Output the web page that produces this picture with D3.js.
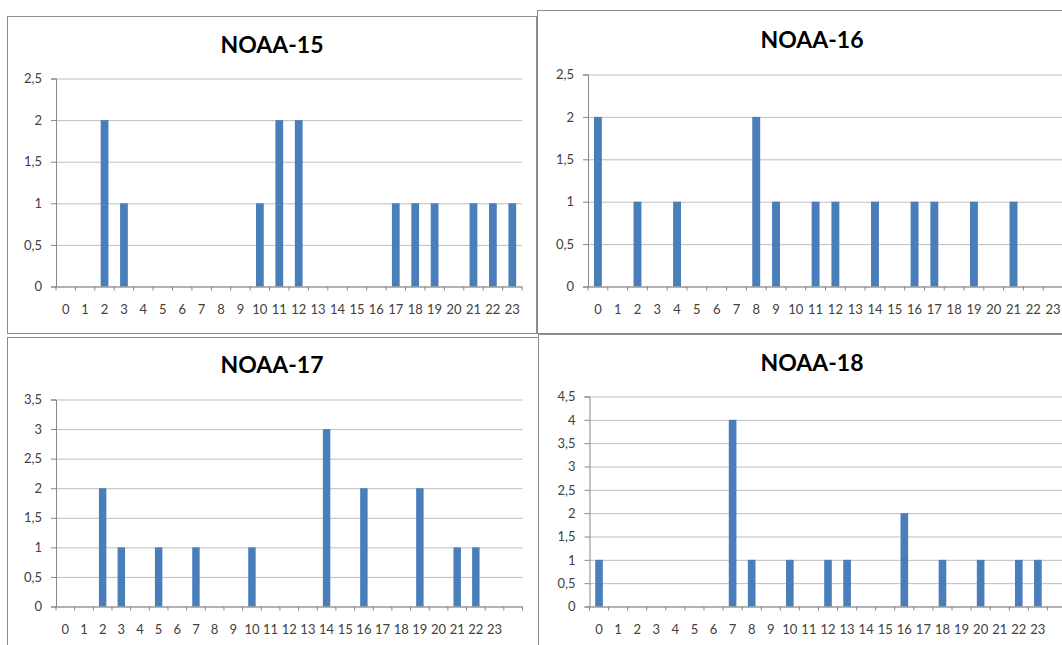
<!DOCTYPE html>
<html>
<head>
<meta charset="utf-8">
<script src="https://cdn.jsdelivr.net/npm/d3@7"></script>
<style>
  body { margin: 0; background: #fff; }
  svg { display: block; }
  .tick text { font-family: Lato, "Open Sans", sans-serif; font-size: 13px; fill: #404040; }
</style>
</head>
<body>
<div id="chart"></div>
<script>
// hour of day labels
var hourLabels = ["0","1","2","3","4","5","6","7","8","9","10","11","12","13","14","15","16","17","18","19","20","21","22","23"];

// passes per hour, one array per satellite
var noaa15 = [0,0,2,1,0,0,0,0,0,0,1,2,2,0,0,0,0,1,1,1,0,1,1,1];
var noaa16 = [2,0,1,0,1,0,0,0,2,1,0,1,1,0,1,0,1,1,0,1,0,1,0,0];
var noaa17 = [0,0,2,1,0,1,0,1,0,0,1,0,0,0,3,0,2,0,0,2,0,1,1,0];
var noaa18 = [1,0,0,0,0,0,0,4,1,0,1,0,1,1,0,0,2,0,1,0,1,0,1,1];

var titles = ["NOAA-15", "NOAA-16", "NOAA-17", "NOAA-18"];
var seriesList = [noaa15, noaa16, noaa17, noaa18];
var yMaxList = [2.5, 2.5, 3.5, 4.5];
// the two bottom charts have one empty category after 23
var extraCategory = [false, false, true, true];

// panel placement (pixels)
var panels = [
	{ box: [7.5, 16.5, 529, 317], plot: [56, 522, 78.5, 286.5], title: [272, 53] },
	{ box: [537.5, 10.5, 600, 323], plot: [588, 1063, 74.5, 286.5], title: [812, 48] },
	{ box: [7.5, 337.5, 531, 400], plot: [56, 522.5, 399.5, 606.5], title: [272, 373] },
	{ box: [538.5, 334.5, 600, 400], plot: [589.5, 1066.5, 396.5, 606.5], title: [812, 371] }
];

var commaFormat = d3.formatLocale({ decimal: ",", thousands: ".", grouping: [3], currency: ["", ""] }).format("~g");

var svg = d3.select("#chart")
	.append("svg")
	.attr("width", 1062)
	.attr("height", 645)

panels.forEach(function(p, i) {
	var values = seriesList[i];
	var cats = hourLabels.map(function(h, k) { return { label: h, value: values[k] }; });
	if (extraCategory[i]) cats.push({ label: "", value: 0 });

	var left = p.plot[0], right = p.plot[1], top = p.plot[2], bottom = p.plot[3];

	// chart frame
	svg.append("rect")
		.attr("x", p.box[0])
		.attr("y", p.box[1])
		.attr("width", p.box[2])
		.attr("height", p.box[3])
		.attr("fill", "#fff")
		.attr("stroke", "#8c8c8c")
		.attr("stroke-width", 1)

	svg.append("text")
		.attr("x", p.title[0])
		.attr("y", p.title[1])
		.attr("text-anchor", "middle")
		.style("font-family", "Lato, 'Open Sans', sans-serif")
		.style("font-weight", "bold")
		.style("font-size", "23px")
		.style("fill", "#000")
		.text(titles[i])

	var x = d3.scaleBand()
		.domain(cats.map(function(d, k) { return k; }))
		.range([left, right])
		.padding(0)

	var y = d3.scaleLinear()
		.domain([0, yMaxList[i]])
		.range([bottom, top])

	var yTicks = d3.range(0, yMaxList[i] + 0.001, 0.5);

	// horizontal gridlines
	svg.append("g")
		.attr("transform", "translate(" + left + ",0)")
		.call(d3.axisLeft(y).tickValues(yTicks).tickSize(-(right - left)).tickFormat(""))
		.call(function(g) { g.select(".domain").remove(); })
		.selectAll("line")
			.attr("stroke", "#bdbdbd")

	// y axis with labels
	svg.append("g")
		.attr("transform", "translate(" + left + ",0)")
		.call(d3.axisLeft(y).tickValues(yTicks).tickSize(5).tickPadding(9).tickFormat(commaFormat))
		.call(function(g) {
			g.select(".domain").attr("stroke", "#868686");
			g.selectAll("line").attr("stroke", "#868686");
		})

	// bars
	svg.append("g")
		.selectAll("rect")
		.data(cats.filter(function(d) { return d.value > 0; }))
		.enter()
		.append("rect")
		.attr("x", function(d) { return x(cats.indexOf(d)) + x.bandwidth() * 0.3; })
		.attr("width", x.bandwidth() * 0.4)
		.attr("y", function(d) { return y(d.value); })
		.attr("height", function(d) { return y(0) - y(d.value); })
		.attr("fill", "#4a7ebb")

	// x axis labels
	svg.append("g")
		.attr("transform", "translate(0," + bottom + ")")
		.call(d3.axisBottom(x).tickSize(0).tickPadding(18).tickFormat(function(k) { return cats[k].label; }))
		.call(function(g) { g.select(".domain").attr("stroke", "#868686"); })

	// tick marks between categories
	var bounds = cats.map(function(d, k) { return x(k); }).concat([x.range()[1]]);
	svg.append("g")
		.selectAll("line")
		.data(bounds)
		.enter()
		.append("line")
		.attr("x1", function(d) { return d; })
		.attr("x2", function(d) { return d; })
		.attr("y1", bottom)
		.attr("y2", bottom + 4)
		.attr("stroke", "#868686")
});
</script>
</body>
</html>
